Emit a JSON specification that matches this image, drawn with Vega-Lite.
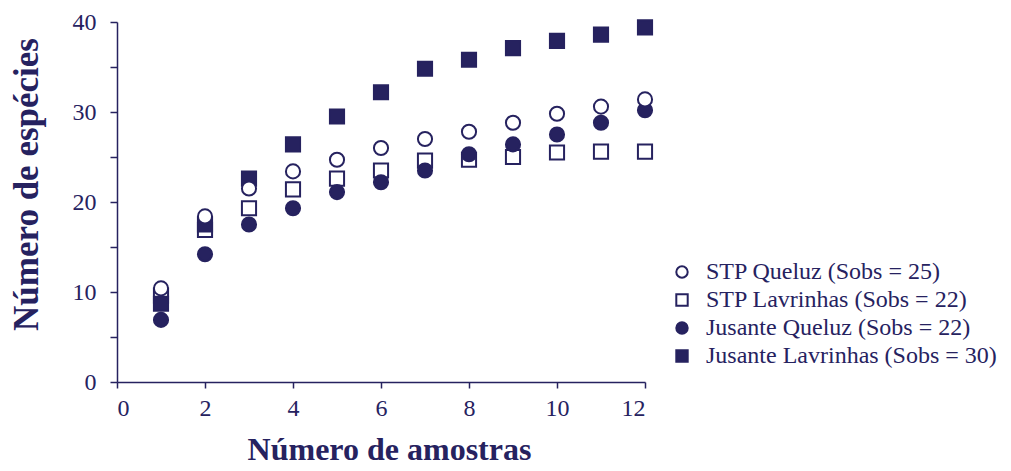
{
  "$schema": "https://vega.github.io/schema/vega-lite/v6.json",
  "width": 528,
  "height": 360,
  "autosize": {"type": "none"},
  "padding": {"left": 117, "top": 22, "right": 366, "bottom": 89},
  "background": "white",
  "config": {
    "view": {"stroke": null},
    "font": "Liberation Serif",
    "axis": {"grid": false, "domainColor": "#26225f", "tickColor": "#26225f", "labelColor": "#26225f", "titleColor": "#26225f", "labelFont": "Liberation Serif", "titleFont": "Liberation Serif", "domainWidth": 1.5, "tickWidth": 1.5},
    "legend": {"title": null, "labelFontSize": 24, "labelFont": "Liberation Serif", "labelColor": "#26225f", "symbolSize": 130, "symbolStrokeWidth": 2, "rowPadding": 4, "labelOffset": 12, "labelLimit": 400}
  },
  "data": {
    "values": [
      {"n": 1, "s": "STP Queluz (Sobs = 25)", "v": 10.4, "z": 4},
      {"n": 2, "s": "STP Queluz (Sobs = 25)", "v": 18.4, "z": 4},
      {"n": 3, "s": "STP Queluz (Sobs = 25)", "v": 21.5, "z": 4},
      {"n": 4, "s": "STP Queluz (Sobs = 25)", "v": 23.4, "z": 4},
      {"n": 5, "s": "STP Queluz (Sobs = 25)", "v": 24.7, "z": 4},
      {"n": 6, "s": "STP Queluz (Sobs = 25)", "v": 26.0, "z": 4},
      {"n": 7, "s": "STP Queluz (Sobs = 25)", "v": 27.0, "z": 4},
      {"n": 8, "s": "STP Queluz (Sobs = 25)", "v": 27.8, "z": 4},
      {"n": 9, "s": "STP Queluz (Sobs = 25)", "v": 28.8, "z": 4},
      {"n": 10, "s": "STP Queluz (Sobs = 25)", "v": 29.8, "z": 4},
      {"n": 11, "s": "STP Queluz (Sobs = 25)", "v": 30.6, "z": 4},
      {"n": 12, "s": "STP Queluz (Sobs = 25)", "v": 31.4, "z": 4},
      {"n": 1, "s": "STP Lavrinhas (Sobs = 22)", "v": 9.6, "z": 1},
      {"n": 2, "s": "STP Lavrinhas (Sobs = 22)", "v": 16.9, "z": 1},
      {"n": 3, "s": "STP Lavrinhas (Sobs = 22)", "v": 19.3, "z": 1},
      {"n": 4, "s": "STP Lavrinhas (Sobs = 22)", "v": 21.4, "z": 1},
      {"n": 5, "s": "STP Lavrinhas (Sobs = 22)", "v": 22.6, "z": 1},
      {"n": 6, "s": "STP Lavrinhas (Sobs = 22)", "v": 23.5, "z": 1},
      {"n": 7, "s": "STP Lavrinhas (Sobs = 22)", "v": 24.6, "z": 1},
      {"n": 8, "s": "STP Lavrinhas (Sobs = 22)", "v": 24.7, "z": 1},
      {"n": 9, "s": "STP Lavrinhas (Sobs = 22)", "v": 25.0, "z": 1},
      {"n": 10, "s": "STP Lavrinhas (Sobs = 22)", "v": 25.5, "z": 1},
      {"n": 11, "s": "STP Lavrinhas (Sobs = 22)", "v": 25.6, "z": 1},
      {"n": 12, "s": "STP Lavrinhas (Sobs = 22)", "v": 25.6, "z": 1},
      {"n": 1, "s": "Jusante Queluz (Sobs = 22)", "v": 6.9, "z": 3},
      {"n": 2, "s": "Jusante Queluz (Sobs = 22)", "v": 14.2, "z": 3},
      {"n": 3, "s": "Jusante Queluz (Sobs = 22)", "v": 17.5, "z": 3},
      {"n": 4, "s": "Jusante Queluz (Sobs = 22)", "v": 19.3, "z": 3},
      {"n": 5, "s": "Jusante Queluz (Sobs = 22)", "v": 21.1, "z": 3},
      {"n": 6, "s": "Jusante Queluz (Sobs = 22)", "v": 22.2, "z": 3},
      {"n": 7, "s": "Jusante Queluz (Sobs = 22)", "v": 23.5, "z": 3},
      {"n": 8, "s": "Jusante Queluz (Sobs = 22)", "v": 25.3, "z": 3},
      {"n": 9, "s": "Jusante Queluz (Sobs = 22)", "v": 26.4, "z": 3},
      {"n": 10, "s": "Jusante Queluz (Sobs = 22)", "v": 27.5, "z": 3},
      {"n": 11, "s": "Jusante Queluz (Sobs = 22)", "v": 28.8, "z": 3},
      {"n": 12, "s": "Jusante Queluz (Sobs = 22)", "v": 30.2, "z": 3},
      {"n": 1, "s": "Jusante Lavrinhas (Sobs = 30)", "v": 8.7, "z": 2},
      {"n": 2, "s": "Jusante Lavrinhas (Sobs = 30)", "v": 17.5, "z": 2},
      {"n": 3, "s": "Jusante Lavrinhas (Sobs = 30)", "v": 22.6, "z": 2},
      {"n": 4, "s": "Jusante Lavrinhas (Sobs = 30)", "v": 26.4, "z": 2},
      {"n": 5, "s": "Jusante Lavrinhas (Sobs = 30)", "v": 29.5, "z": 2},
      {"n": 6, "s": "Jusante Lavrinhas (Sobs = 30)", "v": 32.2, "z": 2},
      {"n": 7, "s": "Jusante Lavrinhas (Sobs = 30)", "v": 34.8, "z": 2},
      {"n": 8, "s": "Jusante Lavrinhas (Sobs = 30)", "v": 35.8, "z": 2},
      {"n": 9, "s": "Jusante Lavrinhas (Sobs = 30)", "v": 37.1, "z": 2},
      {"n": 10, "s": "Jusante Lavrinhas (Sobs = 30)", "v": 37.9, "z": 2},
      {"n": 11, "s": "Jusante Lavrinhas (Sobs = 30)", "v": 38.6, "z": 2},
      {"n": 12, "s": "Jusante Lavrinhas (Sobs = 30)", "v": 39.4, "z": 2}
    ]
  },
  "mark": {"type": "point", "size": 200, "strokeWidth": 2, "opacity": 1, "fillOpacity": 1},
  "encoding": {
    "x": {"field": "n", "type": "quantitative", "scale": {"domain": [0, 12], "nice": false},
      "axis": {"values": [0, 2, 4, 6, 8, 10, 12], "title": "Número de amostras", "titleFontSize": 32, "titleFontWeight": "bold", "labelFontSize": 24, "tickSize": 6, "labelPadding": 8, "titlePadding": 14, "titleX": 272}},
    "y": {"field": "v", "type": "quantitative", "scale": {"domain": [0, 40], "nice": false},
      "axis": {"values": [0, 5, 10, 15, 20, 25, 30, 35, 40], "labelExpr": "datum.value % 10 === 0 ? datum.label : ''", "title": "Número de espécies", "titleFontSize": 35, "titleFontWeight": "bold", "labelFontSize": 24, "tickSize": 7, "labelPadding": 14, "titlePadding": 28, "titleY": 162}},
    "shape": {"field": "s", "type": "nominal",
      "scale": {"domain": ["STP Queluz (Sobs = 25)", "STP Lavrinhas (Sobs = 22)", "Jusante Queluz (Sobs = 22)", "Jusante Lavrinhas (Sobs = 30)"], "range": ["circle", "square", "circle", "square"]},
      "legend": {"orient": "none", "legendX": 553, "legendY": 238}},
    "fill": {"field": "s", "type": "nominal",
      "scale": {"domain": ["STP Queluz (Sobs = 25)", "STP Lavrinhas (Sobs = 22)", "Jusante Queluz (Sobs = 22)", "Jusante Lavrinhas (Sobs = 30)"], "range": ["white", "white", "#26225f", "#26225f"]},
      "legend": {"orient": "none", "legendX": 553, "legendY": 238}},
    "stroke": {"field": "s", "type": "nominal",
      "scale": {"domain": ["STP Queluz (Sobs = 25)", "STP Lavrinhas (Sobs = 22)", "Jusante Queluz (Sobs = 22)", "Jusante Lavrinhas (Sobs = 30)"], "range": ["#26225f", "#26225f", "#26225f", "#26225f"]},
      "legend": {"orient": "none", "legendX": 553, "legendY": 238}},
    "order": {"field": "z", "type": "quantitative"}
  }
}
